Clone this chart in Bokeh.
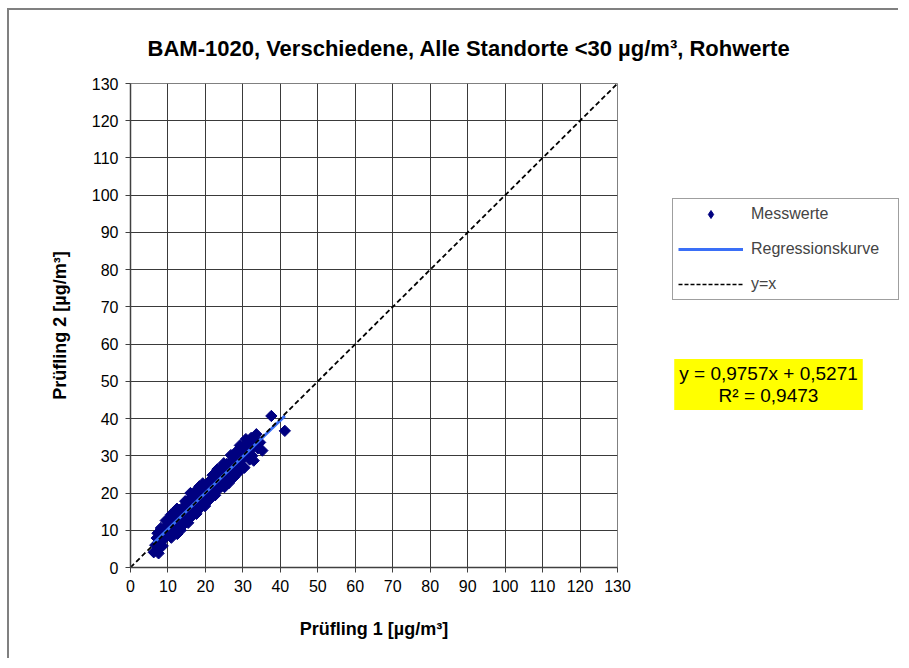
import numpy as np
from bokeh.plotting import figure
from bokeh.models import (Label, Legend, LegendItem, FixedTicker, Range1d, Title)
from bokeh.embed import file_html
from bokeh.resources import INLINE

# ---------------- data ----------------
title_text = "BAM-1020, Verschiedene, Alle Standorte <30 µg/m³, Rohwerte"
x_label = "Prüfling 1 [µg/m³]"
y_label = "Prüfling 2 [µg/m³]"
legend_labels = ["Messwerte", "Regressionskurve", "y=x"]
ticks = [0, 10, 20, 30, 40, 50, 60, 70, 80, 90, 100, 110, 120, 130]
slope = 0.9757
intercept = 0.5271
r2 = 0.9473

mess_x = [6.2, 7.5, 6.6, 7.0, 7.8, 8.0, 8.5, 8.9, 9.2, 9.6, 10.0, 10.3, 10.7, 11.0, 11.3, 11.6,
          12.0, 12.5, 12.7, 13.0, 13.3, 13.6, 14.0, 14.2, 14.5, 14.9, 15.2, 15.5, 15.8, 16.0,
          16.2, 16.5, 16.9, 17.2, 17.5, 17.9, 18.2, 18.5, 18.8, 19.1, 19.5, 19.8, 20.1, 20.4,
          20.7, 21.0, 21.4, 21.8, 22.1, 22.5, 22.9, 23.3, 23.6, 24.0, 24.3, 24.6, 25.0, 25.4,
          25.7, 26.1, 26.5, 26.9, 27.3, 27.7, 28.2, 28.6, 29.1, 29.5, 29.8, 30.2, 30.6, 31.0,
          31.5, 32.0, 32.5, 32.9, 33.6, 34.0, 35.2, 37.6, 41.2,
          8.2, 9.0, 10.5, 11.5, 12.2, 13.8, 14.8, 15.0, 16.8, 17.8, 18.0, 19.0, 20.0, 21.2,
          22.0, 23.0, 24.5, 26.0, 27.0, 28.0, 30.0, 31.2, 33.0, 11.8, 13.0, 15.6, 17.0, 19.6,
          21.6, 23.8, 25.2, 30.8, 32.2, 28.5, 27.5,
          9.4, 10.8, 12.4, 14.6, 17.4, 19.3, 21.9, 24.9, 26.8, 29.2, 13.4, 15.4, 17.6, 19.9,
          22.6, 25.1, 27.6, 30.4, 8.6, 10.9, 23.2, 20.9, 18.4, 16.1, 11.9, 14.1, 28.9, 26.2,
          31.8, 33.2, 34.6, 7.2, 8.1]
mess_y = [4.1, 3.8, 6.0, 7.9, 5.6, 9.0, 7.2, 10.1, 8.0, 11.2, 9.3, 12.4, 10.0, 13.5, 11.0, 14.8,
          12.2, 9.0, 13.6, 15.5, 12.0, 14.4, 16.2, 13.0, 15.0, 12.3, 16.8, 14.2, 17.5, 20.0,
          15.1, 13.8, 18.2, 16.0, 19.3, 17.4, 15.5, 20.4, 18.0, 16.8, 21.2, 19.2, 17.2, 22.5,
          20.0, 18.5, 23.5, 21.0, 19.6, 24.2, 22.0, 20.8, 25.6, 23.4, 21.8, 27.0, 24.6, 22.8,
          27.8, 25.4, 24.0, 28.6, 26.6, 25.0, 29.5, 27.6, 26.0, 31.0, 29.0, 27.0, 32.2, 30.4,
          33.6, 31.5, 30.0, 28.7, 35.8, 32.0, 31.4, 40.7, 36.7,
          7.8, 8.6, 10.8, 12.3, 11.4, 13.0, 14.3, 15.8, 16.4, 18.6, 17.0, 19.4, 20.6, 20.4,
          22.6, 23.8, 24.0, 26.8, 28.0, 27.0, 30.8, 32.0, 33.0, 10.6, 13.6, 16.2, 17.8, 18.6,
          22.0, 24.6, 25.8, 34.5, 34.8, 31.4, 30.0,
          12.6, 14.2, 15.8, 17.8, 20.6, 22.6, 24.8, 28.0, 30.2, 32.8, 10.0, 12.0, 14.4, 16.5,
          19.4, 21.6, 24.2, 26.8, 5.8, 8.0, 26.4, 18.0, 21.8, 18.8, 9.6, 11.4, 25.6, 22.6,
          29.0, 34.2, 33.6, 9.2, 10.6]

# regression line over the data range
reg_x = np.array([min(mess_x), max(mess_x)])
reg_y = slope * reg_x + intercept
diag = [ticks[0], ticks[-1]]

FONT = "Liberation Sans"
NAVY = "#000080"
BLUE = "#3A6FF7"

# ---------------- main figure ----------------
p = figure(width=891, height=650, output_backend="svg", toolbar_location=None,
           x_range=Range1d(0, 130), y_range=Range1d(0, 130),
           min_border_left=121, min_border_right=283, min_border_top=72, min_border_bottom=93,
           background_fill_color="white", border_fill_color="white")
p.styles = {"border-left": "2px solid #808080", "border-top": "2px solid #808080",
            "margin-left": "7px", "margin-top": "8px"}
p.outline_line_color = "#808080"
p.outline_line_width = 1

p.title = Title(text=title_text, align="right", offset=-173, standoff=46,
                text_font=FONT, text_font_style="bold", text_font_size="22px",
                text_color="black")

for ax, lab in ((p.xaxis, x_label), (p.yaxis, y_label)):
    ax.ticker = FixedTicker(ticks=ticks)
    ax.axis_label = lab
    ax.axis_label_text_font = FONT
    ax.axis_label_text_font_style = "bold"
    ax.axis_label_text_font_size = "18px"
    ax.axis_label_text_color = "black"
    ax.major_label_text_font = FONT
    ax.major_label_text_font_size = "16px"
    ax.major_label_text_color = "black"
    ax.axis_line_color = "#404040"
    ax.axis_line_width = 1.5
    ax.major_tick_line_color = "#404040"
    ax.major_tick_out = 5
    ax.major_tick_in = 0
    ax.minor_tick_line_color = None

p.xaxis.major_label_standoff = 7
p.xaxis.axis_label_standoff = 24
p.yaxis.major_label_standoff = 7
p.yaxis.axis_label_standoff = 19

p.grid.ticker = FixedTicker(ticks=ticks)
p.grid.grid_line_color = "#3a3a3a"
p.grid.grid_line_width = 1

# measurements
p.scatter(mess_x, mess_y, marker="square", angle=np.pi / 4, size=8,
          fill_color=NAVY, line_color=NAVY)
# regression
p.line(reg_x, reg_y, line_color=BLUE, line_width=3)
# y = x
p.line(diag, diag, line_color="black", line_dash="5 3", line_width=1.8)

# ---------------- legend + equation panel (overlaid on the right margin) ----------------
q = figure(width=232, height=215, output_backend="svg", toolbar_location=None,
           x_range=Range1d(0, 1), y_range=Range1d(0, 1),
           x_axis_location=None, y_axis_location=None,
           min_border=0, outline_line_color=None,
           background_fill_alpha=0, border_fill_alpha=0)
q.grid.visible = False
q.styles = {"position": "absolute", "left": "670px", "top": "198px"}

nan = [float("nan")]
g_mess = q.scatter(nan, nan, marker="diamond", size=15, fill_color=NAVY, line_color=NAVY)
g_reg = q.line(nan, nan, line_color=BLUE, line_width=3)
g_diag = q.line(nan, nan, line_color="black", line_dash="4 2", line_width=1.5)

legend = Legend(items=[LegendItem(label=legend_labels[0], renderers=[g_mess]),
                       LegendItem(label=legend_labels[1], renderers=[g_reg]),
                       LegendItem(label=legend_labels[2], renderers=[g_diag])],
                location=(2, 113), orientation="vertical",
                border_line_color="#404040", border_line_width=1,
                background_fill_color="white", background_fill_alpha=1,
                label_text_font=FONT, label_text_font_size="16px",
                glyph_width=65, glyph_height=20, spacing=15, padding=5, margin=0,
                label_standoff=8, label_width=142)
q.add_layout(legend, "center")

eq = Label(x=98, y=29, x_units="screen", y_units="screen",
           text=f"y = {slope:.4f}x + {intercept:.4f}".replace(".", ",") + "\n" +
                f"R² = {r2:.4f}".replace(".", ","),
           text_font=FONT, text_font_size="19px", text_align="center",
           text_baseline="middle", text_color="black", text_line_height=1.05,
           background_fill_color="#FFFF00", padding=(5, 4))
q.add_layout(eq, "center")

open("out.html", "w").write(file_html([p, q], INLINE))
